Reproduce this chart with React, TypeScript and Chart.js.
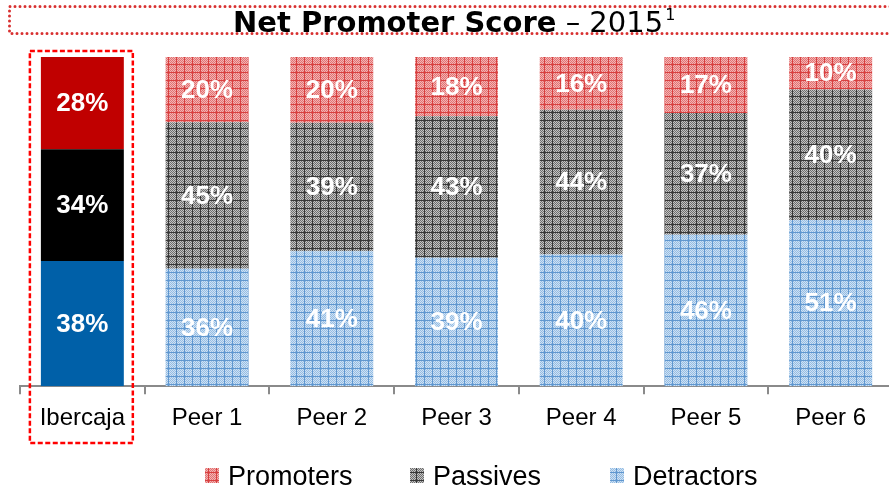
import React, { useEffect, useRef } from "react";
import { Chart, registerables } from "chart.js";

Chart.register(...registerables);

const categories = ["Ibercaja", "Peer 1", "Peer 2", "Peer 3", "Peer 4", "Peer 5", "Peer 6"];
const promoters = [28, 20, 20, 18, 16, 17, 10];
const passives = [34, 45, 39, 43, 44, 37, 40];
const detractors = [38, 36, 41, 39, 40, 46, 51];
const seriesNames = ["Promoters", "Passives", "Detractors"];
const titleBold = "Net Promoter Score";
const titleRegular = " \u2013 2015";
const titleSup = "1";

const SANS = '"Liberation Sans", Arial, sans-serif';
const TITLE_FONT = '"DejaVu Sans", Verdana, sans-serif';

function makePattern(base: string, dot: string, line: string): CanvasPattern | string {
  const c = document.createElement("canvas");
  c.width = 8;
  c.height = 8;
  const g = c.getContext("2d");
  if (!g) return base;
  g.fillStyle = base;
  g.fillRect(0, 0, 8, 8);
  g.fillStyle = dot;
  for (let y = 0; y < 8; y++) {
    for (let x = 0; x < 8; x++) {
      if ((x + y) % 2 === 0) g.fillRect(x, y, 1, 1);
    }
  }
  g.fillStyle = line;
  g.fillRect(0, 0, 8, 1);
  g.fillRect(0, 0, 1, 8);
  const p = g.createPattern(c, "repeat");
  return p || base;
}

export default function App() {
  const ref = useRef<HTMLCanvasElement | null>(null);

  useEffect(() => {
    const canvas = ref.current;
    if (!canvas) return;

    const promPat = makePattern("#f3b3b3", "#e27272", "#d84040");
    const passPat = makePattern("#c4c4c4", "#6e6e6e", "#383838");
    const detrPat = makePattern("#cfe1f3", "#94bde4", "#6097cf");

    const totals = categories.map((_, i) => promoters[i] + passives[i] + detractors[i]);
    const share = (arr: number[]) => arr.map((v, i) => (v / totals[i]) * 100);

    const solidProm = "#c00000";
    const solidPass = "#000000";
    const solidDetr = "#0060a8";

    const colorsFor = (solid: string, pat: any) => categories.map((_, i) => (i === 0 ? solid : pat));

    const raw = [detractors, passives, promoters];

    const legendItems = [
      { name: seriesNames[0], fill: promPat },
      { name: seriesNames[1], fill: passPat },
      { name: seriesNames[2], fill: detrPat },
    ];
    const legendX = [205, 410, 610];

    const overlay = {
      id: "overlay",
      afterDraw(chart: any) {
        const ctx = chart.ctx as CanvasRenderingContext2D;
        const x = chart.scales.x;
        const area = chart.chartArea;

        // Title box (dotted)
        ctx.save();
        ctx.strokeStyle = "#d83030";
        ctx.lineWidth = 3;
        ctx.lineCap = "round";
        ctx.setLineDash([0, 5]);
        ctx.beginPath();
        ctx.moveTo(chart.width + 5, 6.5);
        ctx.lineTo(9.5, 6.5);
        ctx.lineTo(9.5, 33.5);
        ctx.lineTo(chart.width + 5, 33.5);
        ctx.stroke();
        ctx.restore();

        // Title text
        ctx.save();
        ctx.fillStyle = "#000";
        ctx.textBaseline = "alphabetic";
        ctx.textAlign = "left";
        let tx = 233;
        const ty = 31.5;
        ctx.font = `bold 29px ${TITLE_FONT}`;
        ctx.fillText(titleBold, tx, ty);
        tx += ctx.measureText(titleBold).width;
        ctx.font = `29px ${TITLE_FONT}`;
        ctx.fillText(titleRegular, tx, ty);
        tx += ctx.measureText(titleRegular).width + 2;
        ctx.font = `16px ${TITLE_FONT}`;
        ctx.fillText(titleSup, tx, ty - 12);
        ctx.restore();

        // Data labels
        ctx.save();
        ctx.fillStyle = "#ffffff";
        ctx.textAlign = "center";
        ctx.textBaseline = "middle";
        ctx.font = `bold 26px ${SANS}`;
        chart.data.datasets.forEach((ds: any, di: number) => {
          const meta = chart.getDatasetMeta(di);
          meta.data.forEach((bar: any, i: number) => {
            const c = bar.getCenterPoint();
            ctx.fillText(`${raw[di][i]}%`, c.x, c.y + 1);
          });
        });
        ctx.restore();

        // Ibercaja highlight box (dashed)
        const bar0 = chart.getDatasetMeta(0).data[0];
        const cx = x.getPixelForValue(0);
        const half = bar0.width / 2;
        ctx.save();
        ctx.strokeStyle = "#ff0000";
        ctx.lineWidth = 2.5;
        ctx.setLineDash([5, 2.5]);
        ctx.strokeRect(cx - half - 11, area.top - 6, 2 * half + 20, 443 - (area.top - 6));
        ctx.restore();

        // Legend
        ctx.save();
        ctx.textAlign = "left";
        ctx.textBaseline = "alphabetic";
        ctx.font = `27px ${SANS}`;
        legendItems.forEach((it, k) => {
          const lx = legendX[k];
          ctx.fillStyle = it.fill as any;
          ctx.fillRect(lx, 468, 14, 15);
          ctx.fillStyle = "#000";
          ctx.fillText(it.name, lx + 23, 485);
        });
        ctx.restore();
      },
    };

    const chart = new Chart(canvas, {
      type: "bar",
      data: {
        labels: categories,
        datasets: [
          { label: seriesNames[2], data: share(detractors), backgroundColor: colorsFor(solidDetr, detrPat) as any },
          { label: seriesNames[1], data: share(passives), backgroundColor: colorsFor(solidPass, passPat) as any },
          { label: seriesNames[0], data: share(promoters), backgroundColor: colorsFor(solidProm, promPat) as any },
        ],
      },
      options: {
        animation: false,
        responsive: false,
        devicePixelRatio: 1,
        layout: { padding: { left: 20, right: 7, top: 57, bottom: 46 } },
        datasets: { bar: { categoryPercentage: 1, barPercentage: 0.665, borderWidth: 0 } },
        plugins: {
          legend: { display: false },
          title: { display: false },
          tooltip: { enabled: false },
        },
        scales: {
          x: {
            stacked: true,
            grid: {
              display: true,
              drawOnChartArea: false,
              drawTicks: true,
              tickLength: 8,
              color: "#8a8a8a",
              lineWidth: 2,
              offset: true,
            },
            border: { display: true, color: "#8a8a8a", width: 2 },
            ticks: {
              color: "#000",
              padding: 10,
              font: { family: SANS, size: 24 },
              maxRotation: 0,
            },
          },
          y: {
            stacked: true,
            display: false,
            min: 0,
            max: 100,
          },
        },
      },
      plugins: [overlay],
    });

    return () => chart.destroy();
  }, []);

  return (
    <div style={{ position: "absolute", left: 0, top: 0, width: 889, height: 489, overflow: "hidden", background: "#fff" }}>
      <canvas ref={ref} width={900} height={489} style={{ display: "block", width: 900, height: 489 }} />
    </div>
  );
}
